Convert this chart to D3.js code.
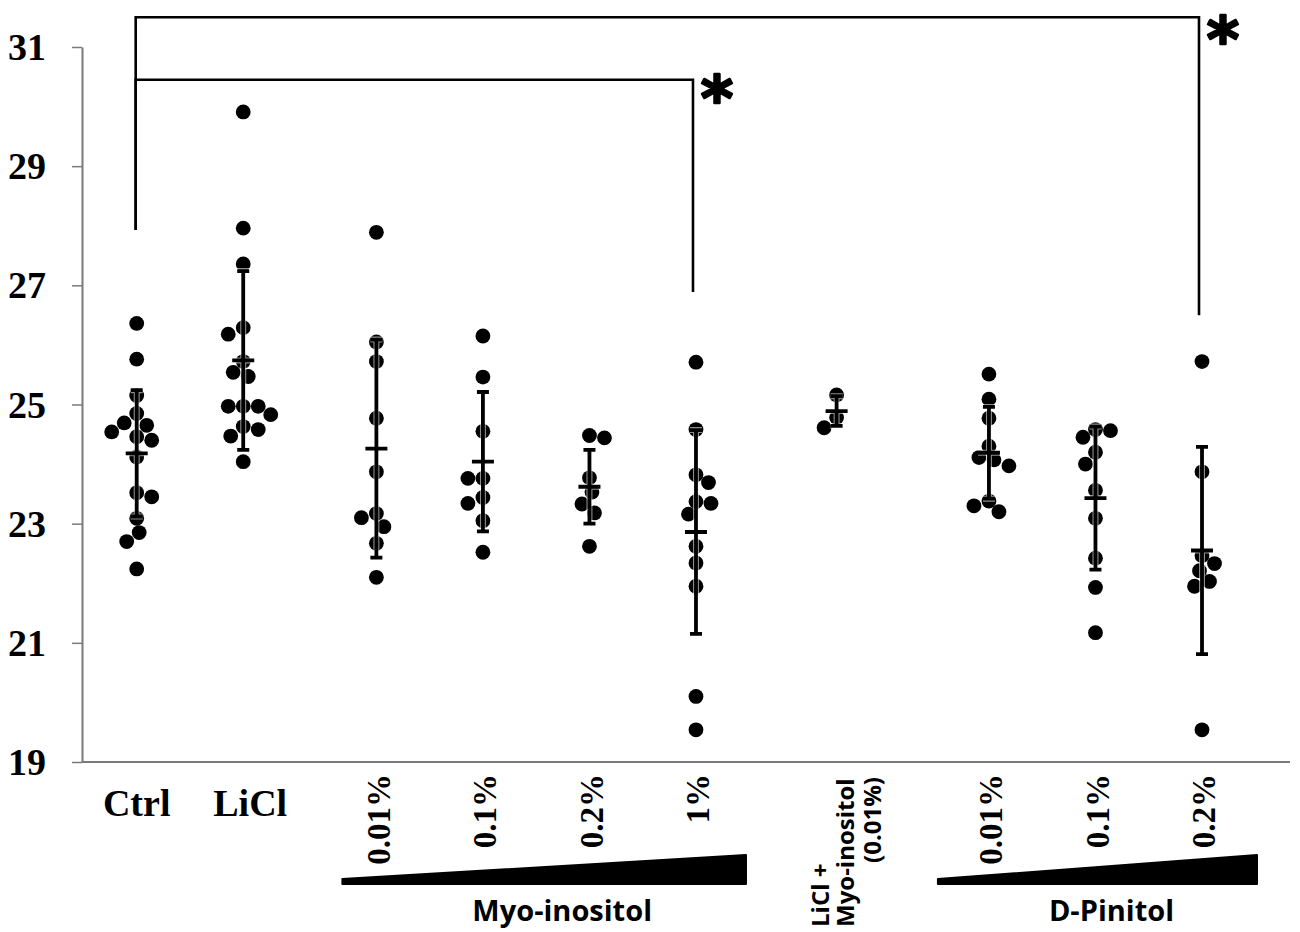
<!DOCTYPE html>
<html><head><meta charset="utf-8">
<script src="https://cdn.jsdelivr.net/npm/d3@7"></script>
<style>body{margin:0;background:#fff}svg{display:block}</style>
</head><body>
<svg id="c" width="1300" height="932"></svg>
<script>
// ---------- data ----------
const groupIds = ['Ctrl','LiCl','Myo 0.01%','Myo 0.1%','Myo 0.2%','Myo 1%','LiCl+Myo 0.01%','Pin 0.01%','Pin 0.1%','Pin 0.2%'];
const groupLabels = ['Ctrl','LiCl','0.01%','0.1%','0.2%','1%','','0.01%','0.1%','0.2%'];
const comboLabel = ['LiCl +','Myo-inositol','(0.01%)'];
const yTicks = [19,21,23,25,27,29,31];

const ctrl    = [26.36,25.76,25.15,24.85,24.69,24.65,24.54,24.46,24.40,24.12,23.52,23.45,23.09,22.85,22.70,22.24];
const licl    = [29.91,27.96,27.36,26.29,26.18,25.72,25.54,25.47,24.97,24.97,24.97,24.83,24.63,24.58,24.47,24.04];
const myo001  = [27.89,26.05,25.72,24.77,23.87,23.17,23.10,22.95,22.67,22.10];
const myo01   = [26.15,25.46,24.55,23.76,23.76,23.44,23.34,23.05,22.52];
const myo02   = [24.48,24.44,23.77,23.53,23.33,23.18,22.62];
const myo1    = [25.71,24.58,23.82,23.69,23.37,23.34,23.16,22.62,22.34,21.95,20.10,19.54];
const liclMyo = [25.16,24.78,24.61];
const pin001  = [25.51,25.09,24.77,24.30,24.11,24.07,23.97,23.38,23.30,23.20];
const pin01   = [24.58,24.56,24.45,24.20,24.00,23.56,23.09,22.42,21.93,21.17];
const pin02   = [25.72,23.87,22.46,22.33,22.21,22.03,21.95,19.54];
const groupValues = [ctrl,licl,myo001,myo01,myo02,myo1,liclMyo,pin001,pin01,pin02];

const means = [24.18,25.74,24.26,24.04,23.62,22.86,24.89,24.19,23.43,22.55];
const sds   = [1.06,1.50,1.83,1.17,0.62,1.71,0.25,0.77,1.20,1.74];

// significance brackets (value levels)
const brackets = [
  {from:0, to:9, level:31.5,  startEnd:27.93, stopEnd:26.5},
  {from:0, to:5, level:30.45, startEnd:27.93, stopEnd:26.89}
];
const doseGroups = [
  {name:'Myo-inositol', first:2, last:5},
  {name:'D-Pinitol', first:7, last:9}
];

// ---------- layout ----------
const slot = [0,1,2.25,3.25,4.25,5.25,6.57,8,9,10];
const svg = d3.select('#c');
const y = d3.scaleLinear().domain([19,31]).range([762,47]);
const xs = d3.scaleLinear().domain([0,10]).range([136.7,1202]);
const x = d3.scaleOrdinal().domain(groupIds).range(slot.map(s=>xs(s)));
const R = 7.4;

// y axis
const yAxis = svg.append('g').attr('transform','translate(82,0)')
  .call(d3.axisLeft(y).tickValues(yTicks).tickSize(10).tickSizeOuter(0).tickPadding(26).tickFormat(d3.format('d')));
yAxis.select('.domain').attr('stroke','#7a7a7a').attr('stroke-width',2);
yAxis.selectAll('.tick line').attr('stroke','#7a7a7a').attr('stroke-width',1.5);
yAxis.selectAll('.tick text').attr('font-family','"Liberation Serif", serif')
  .attr('font-weight','bold').attr('font-size',38).attr('fill','#000').attr('dy','0.33em');

// x axis line
svg.append('line').attr('x1',82).attr('x2',1290).attr('y1',y(19)).attr('y2',y(19))
  .attr('stroke','#7a7a7a').attr('stroke-width',2.2);

// beeswarm placement
function swarm(vals){
  const placed=[];
  const order = vals.map((v,i)=>({v,i})).sort((a,b)=>b.v-a.v);
  order.forEach((d,j)=>{
    const py=y(d.v);
    const side = j%2?1:-1;
    let off=0;
    for(let k=0;k<80;k++){
      const o = k===0?0:(k%2===1?side:-side)*Math.ceil(k/2)*2.5;
      if(placed.every(p=>Math.hypot(p.dx-o,p.py-py)>=R*1.95)){off=o;break;}
    }
    placed.push({dx:off,py,v:d.v});
  });
  return placed;
}

// points
groupIds.forEach((g,gi)=>{
  const pts = swarm(groupValues[gi]);
  svg.append('g').selectAll('circle').data(pts).join('circle')
    .attr('cx',d=>x(g)+d.dx).attr('cy',d=>y(d.v)).attr('r',R).attr('fill','#000');
});

// error bars
const eb = svg.append('g');
groupIds.forEach((g,gi)=>{
  const cx=x(g), m=means[gi], s=sds[gi];
  const path = `M${cx},${y(m+s)}V${y(m-s)}M${cx-6},${y(m+s)}H${cx+6}M${cx-6},${y(m-s)}H${cx+6}M${cx-11},${y(m)}H${cx+11}`;
  eb.append('path').attr('d',path).attr('stroke','#fff').attr('stroke-width',6).attr('fill','none').attr('opacity',0.55);
  eb.append('path').attr('d',path).attr('stroke','#000').attr('stroke-width',3.8).attr('fill','none');
});

// brackets
brackets.forEach(b=>{
  const x1=x(groupIds[b.from]), x2=x(groupIds[b.to])-3;
  svg.append('path')
    .attr('d',`M${x1-1},${y(b.startEnd)}V${y(b.level)}H${x2}V${y(b.stopEnd)}`)
    .attr('fill','none').attr('stroke','#000').attr('stroke-width',2.6);
  svg.append('text').attr('x',x2+24).attr('y',y(b.level)+(b.to===9?44:40))
    .attr('text-anchor','middle').attr('font-family','"DejaVu Sans", sans-serif')
    .attr('font-weight','bold').attr('font-size',62).attr('fill','#000')
    .attr('stroke','#000').attr('stroke-width',2.4).attr('stroke-linejoin','round').text('*');
});

// category labels
groupIds.forEach((g,gi)=>{
  const lab = groupLabels[gi];
  if(!lab) return;
  if(gi<2){
    svg.append('text').attr('x',x(g)+(gi===1?7:0)).attr('y',816).attr('text-anchor','middle')
      .attr('font-family','"Liberation Serif", serif').attr('font-weight','bold')
      .attr('font-size',38).text(lab);
  } else {
    svg.append('text').attr('transform',`translate(${x(g)+2},774) rotate(-90)`)
      .attr('text-anchor','end').attr('dy','0.34em')
      .attr('font-family','"Liberation Serif", serif').attr('font-weight','bold')
      .attr('font-size',33).text(lab);
  }
});

// combo label (three rotated lines)
const cx6 = x(groupIds[6]);
const comboAnchors = [['start',927,-8],['start',927,17],['end',777,44]];
comboLabel.forEach((t,i)=>{
  svg.append('text').attr('transform',`translate(${cx6+comboAnchors[i][2]},${comboAnchors[i][1]}) rotate(-90)`)
    .attr('text-anchor',comboAnchors[i][0])
    .attr('font-family','"Open Sans", sans-serif').attr('font-weight','bold')
    .attr('font-size',24).text(t);
});

// dose wedges and group names
doseGroups.forEach(dg=>{
  const xl = x(groupIds[dg.first]) - (dg.first===2?34:51);
  const xr = x(groupIds[dg.last]) + (dg.last===5?50:55);
  svg.append('path')
    .attr('d',`M${xl},884 L${xl},879 L${xr},855 L${xr},884 Z`)
    .attr('fill','#000').attr('stroke','#000').attr('stroke-width',2).attr('stroke-linejoin','round');
  svg.append('text').attr('x',(xl+xr)/2+(dg.first===2?18:14)).attr('y',921).attr('text-anchor','middle')
    .attr('font-family','"Open Sans", sans-serif').attr('font-weight','bold')
    .attr('font-size',29).text(dg.name);
});
</script>
</body></html>
